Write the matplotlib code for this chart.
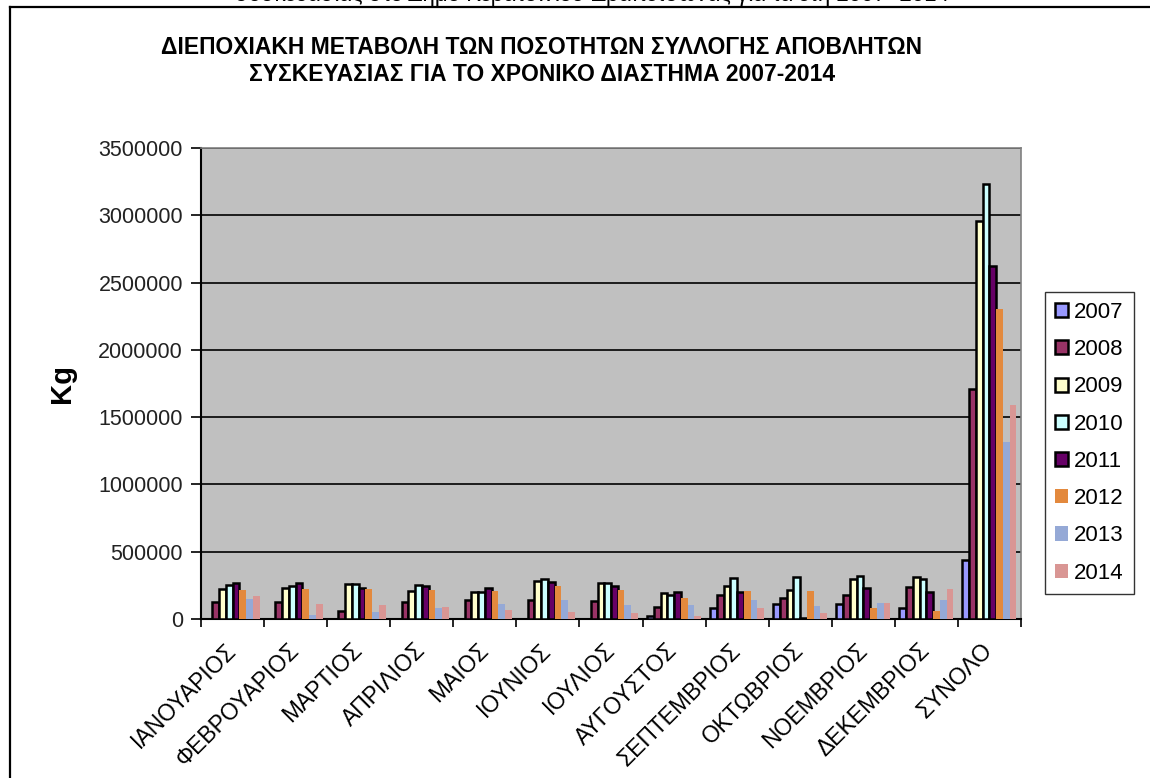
import numpy as np
import matplotlib
matplotlib.use('Agg')
import matplotlib.pyplot as plt
from matplotlib.patches import Patch
from matplotlib.lines import Line2D

plt.rcParams['font.family'] = ['Liberation Sans', 'DejaVu Sans']

# categories (months + total)
months = ['ΙΑΝΟΥΑΡΙΟΣ', 'ΦΕΒΡΟΥΑΡΙΟΣ', 'ΜΑΡΤΙΟΣ', 'ΑΠΡΙΛΙΟΣ', 'ΜΑΙΟΣ', 'ΙΟΥΝΙΟΣ',
          'ΙΟΥΛΙΟΣ', 'ΑΥΓΟΥΣΤΟΣ', 'ΣΕΠΤΕΜΒΡΙΟΣ', 'ΟΚΤΩΒΡΙΟΣ', 'ΝΟΕΜΒΡΙΟΣ',
          'ΔΕΚΕΜΒΡΙΟΣ', 'ΣΥΝΟΛΟ']
years = ['2007', '2008', '2009', '2010', '2011', '2012', '2013', '2014']

# values in kg
y2007 = [0, 0, 0, 0, 0, 0, 0, 25000, 82000, 111000, 111000, 82000, 438000]
y2008 = [126000, 126000, 59000, 126000, 143000, 143000, 134000, 91000, 178000, 158000, 181000, 235000, 1711000]
y2009 = [225000, 227000, 257000, 208000, 200000, 285000, 267000, 190000, 242000, 215000, 300000, 309000, 2958000]
y2010 = [255000, 242000, 257000, 255000, 200000, 294000, 267000, 180000, 302000, 309000, 320000, 300000, 3235000]
y2011 = [268000, 268000, 230000, 242000, 227000, 275000, 245000, 200000, 203000, 5000, 233000, 200000, 2623000]
y2012 = [215000, 225000, 225000, 215000, 205000, 245000, 218000, 158000, 205000, 205000, 82000, 62000, 2304000]
y2013 = [151000, 32000, 54000, 82000, 114000, 138000, 101000, 101000, 138000, 99000, 121000, 138000, 1315000]
y2014 = [168000, 111000, 101000, 91000, 64000, 54000, 45000, 25000, 82000, 45000, 121000, 225000, 1590000]

series = [y2007, y2008, y2009, y2010, y2011, y2012, y2013, y2014]
colors = ['#9999FF', '#993366', '#FFFFCC', '#CCFFFF', '#660066',
          '#E3893D', '#95A9D6', '#D99694']
outlined = [True, True, True, True, True, False, False, False]

fig = plt.figure(figsize=(11.5, 7.78), dpi=100)
ax = fig.add_axes([201 / 1150, 1 - 619 / 778, 820 / 1150, 471 / 778])
ax.set_facecolor('#C0C0C0')

x = np.arange(len(months))
w = 0.107
for i, (vals, c, edge) in enumerate(zip(series, colors, outlined)):
    if edge:
        ax.bar(x + (i - 3.5) * w, vals, w, color=c, edgecolor='black', linewidth=1.8, zorder=3)
    else:
        ax.bar(x + (i - 3.5) * w, vals, w, color=c, linewidth=0, zorder=3)

ax.set_xlim(-0.5, len(months) - 0.5)
ax.set_ylim(0, 3500000)
ax.set_yticks(np.arange(0, 3500001, 500000))
ax.set_yticklabels([f'{int(v)}' for v in np.arange(0, 3500001, 500000)], fontsize=15.5, color='#222222')
ax.yaxis.grid(True, color='black', linewidth=1.2, zorder=1)
ax.set_axisbelow(True)
ax.tick_params(axis='y', length=7, width=1.2, direction='out', pad=6)

ax.set_xticks(x)
ax.set_xticklabels(months, rotation=45, ha='right', va='center', rotation_mode='anchor', fontsize=16.5)
ax.tick_params(axis='x', which='major', length=0, pad=20)
ax.set_xticks(np.arange(-0.5, len(months)), minor=True)
ax.tick_params(axis='x', which='minor', length=6, width=1.2, direction='out')

for side in ['left', 'bottom']:
    ax.spines[side].set_color('black')
    ax.spines[side].set_linewidth(1.5)
for side in ['top', 'right']:
    ax.spines[side].set_color('#808080')
    ax.spines[side].set_linewidth(1.2)

ax.set_ylabel('Kg', fontsize=21, fontweight='bold', labelpad=16)

fig.text(0.471, 1 - 61 / 778,
         'ΔΙΕΠΟΧΙΑΚΗ ΜΕΤΑΒΟΛΗ ΤΩΝ ΠΟΣΟΤΗΤΩΝ ΣΥΛΛΟΓΗΣ ΑΠΟΒΛΗΤΩΝ\nΣΥΣΚΕΥΑΣΙΑΣ ΓΙΑ ΤΟ ΧΡΟΝΙΚΟ ΔΙΑΣΤΗΜΑ 2007-2014',
         ha='center', va='center', fontsize=16.5, fontweight='bold', linespacing=1.25)

# partial line of text cut off at the top of the page
fig.text(0.515, 1 - 1 / 778, 'συσκευασίας στο Δήμο Κερατσινίου-Δραπετσώνας για τα έτη 2007- 2014',
         ha='center', va='baseline', fontsize=16)

# frame around the chart object
fig.add_artist(Line2D([10 / 1150, 1.0], [1 - 6.5 / 778, 1 - 6.5 / 778], color='black', lw=1.6))
fig.add_artist(Line2D([10 / 1150, 10 / 1150], [0, 1 - 6.5 / 778], color='black', lw=1.6))

handles = []
for c, edge in zip(colors, outlined):
    if edge:
        handles.append(Patch(facecolor=c, edgecolor='black', linewidth=1.8))
    else:
        handles.append(Patch(facecolor=c, edgecolor='none'))
leg = fig.legend(handles, years, loc='upper left',
                 bbox_to_anchor=(1045 / 1150, 1 - 292 / 778),
                 fontsize=16, frameon=True, fancybox=False, edgecolor='black',
                 handlelength=0.6, handleheight=0.6, handletextpad=0.25,
                 labelspacing=0.73, borderpad=0.45, borderaxespad=0)
leg.get_frame().set_linewidth(1.0)

fig.savefig('out.png', dpi=100)
